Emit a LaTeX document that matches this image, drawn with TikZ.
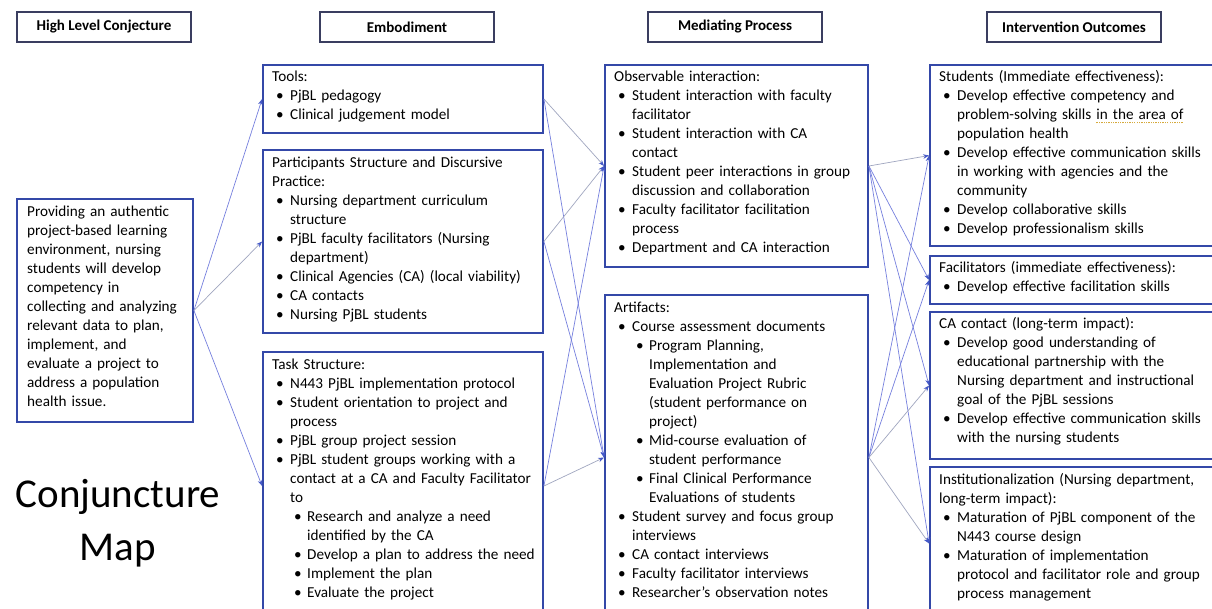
\documentclass[tikz,border=0pt]{standalone}
\usepackage{fontspec}
\setmainfont{Carlito}
\usetikzlibrary{arrows.meta}
\definecolor{boxblue}{RGB}{52,72,168}
\definecolor{hdrcol}{RGB}{58,62,96}
\definecolor{lineblue}{RGB}{118,128,222}
\definecolor{linegrey}{RGB}{160,166,192}
\definecolor{tipblue}{RGB}{70,90,200}
\definecolor{squig}{RGB}{214,170,60}
\newcommand\bodyfont{\fontsize{15.2}{19}\selectfont}
\newcommand\ttl[1]{\noindent\strut #1\par}
\newcommand\li[1]{\hangindent=18pt\hangafter=1\noindent\hspace*{4pt}\makebox[14pt][l]{\textbullet}#1\par}
\newcommand\lii[1]{\hangindent=35pt\hangafter=1\noindent\hspace*{22pt}\makebox[13pt][l]{\textbullet}#1\par}
\newsavebox\squigbox
\newcommand\squigline[1]{\sbox\squigbox{#1}\leavevmode\rlap{\textcolor{squig}{\raisebox{-3.8pt}{\hbox to \wd\squigbox{\xleaders\hbox{\rule{1.3pt}{1.3pt}\kern1pt}\hfill}}}}\usebox\squigbox}
\tikzset{
  box/.style={draw=boxblue, line width=1.8pt, rectangle, inner sep=0pt},
  hdr/.style={draw=hdrcol, line width=1.1pt, rectangle, minimum width=174, minimum height=30,
    font=\fontsize{15}{17}\selectfont\bfseries, inner sep=0pt},
  txt/.style={anchor=north west, inner sep=0pt, align=left, font=\bodyfont},
  conn/.style={draw=lineblue, line width=0.7pt, -{Stealth[length=6pt,width=4.5pt,color=tipblue]}},
  conng/.style={conn, draw=linegrey}
}
\begin{document}
\begin{tikzpicture}[x=1pt,y=-1pt]
\useasboundingbox[fill=white] (0,0) rectangle (1212,609);

% headers
\node[hdr] (h1) at (104,27) {High Level Conjecture};
\node[hdr] (h2) at (407,27) {Embodiment};
\node[hdr] (h3) at (735,27) {Mediating Process};
\node[hdr] (h4) at (1074,27) {Intervention Outcomes};

% high level conjecture
\node[box, minimum width=176, minimum height=223] (hl) at (105,310.5) {};
\node[txt, text width=172] (hlt) at (27,203) {%
\ttl{Providing an authentic\newline project-based learning\newline environment, nursing\newline students will develop\newline competency in\newline collecting and analyzing\newline relevant data to plan,\newline implement, and\newline evaluate a project to\newline address a population\newline health issue.}};

\node[font=\fontsize{41}{53}\selectfont, align=center] (cmap) at (118,523) {Conjuncture\\Map};

% embodiment
\node[box, minimum width=280, minimum height=68] (tools) at (403,99) {};
\node[txt, text width=290] (toolst) at (272,68) {%
\ttl{Tools:}
\li{PjBL pedagogy}
\li{Clinical judgement model}};

\node[box, minimum width=280, minimum height=183] (part) at (403,241.5) {};
\node[txt, text width=290] (partt) at (272,154) {%
\ttl{Participants Structure and Discursive\newline Practice:}
\li{Nursing department curriculum\newline structure}
\li{PjBL faculty facilitators (Nursing\newline department)}
\li{Clinical Agencies (CA) (local viability)}
\li{CA contacts}
\li{Nursing PjBL students}};

\node[box, minimum width=280, minimum height=268] (task) at (403,486) {};
\node[txt, text width=290] (taskt) at (272,356) {%
\ttl{Task Structure:}
\li{N443 PjBL implementation protocol}
\li{Student orientation to project and\newline process}
\li{PjBL group project session}
\li{PjBL student groups working with a\newline contact at a CA and Faculty Facilitator\newline to}
\lii{Research and analyze a need\newline identified by the CA}
\lii{Develop a plan to address the need}
\lii{Implement the plan}
\lii{Evaluate the project}};

% mediating process
\node[box, minimum width=263, minimum height=202] (obs) at (736.5,166) {};
\node[txt, text width=280] (obst) at (614,68) {%
\ttl{Observable interaction:}
\li{Student interaction with faculty\newline facilitator}
\li{Student interaction with CA\newline contact}
\li{Student peer interactions in group\newline discussion and collaboration}
\li{Faculty facilitator facilitation\newline process}
\li{Department and CA interaction}};

\node[box, minimum width=263, minimum height=325] (art) at (736.5,457.5) {};
\node[txt, text width=280] (artt) at (614,299) {%
\ttl{Artifacts:}
\li{Course assessment documents}
\lii{Program Planning,\newline Implementation and\newline Evaluation Project Rubric\newline (student performance on\newline project)}
\lii{Mid-course evaluation of\newline student performance}
\lii{Final Clinical Performance\newline Evaluations of students}
\li{Student survey and focus group\newline interviews}
\li{CA contact interviews}
\li{Faculty facilitator interviews}
\li{Researcher’s observation notes}};

% outcomes
\node[box, minimum width=283, minimum height=181] (stu) at (1071.5,155.5) {};
\node[txt, text width=300] (stut) at (939,68) {%
\ttl{Students (Immediate effectiveness):}
\li{Develop effective competency and\newline problem-solving skills \squigline{in the area of}\newline population health}
\li{Develop effective communication skills\newline in working with agencies and the\newline community}
\li{Develop collaborative skills}
\li{Develop professionalism skills}};

\node[box, minimum width=283, minimum height=48] (fac) at (1071.5,280) {};
\node[txt, text width=300] (fact) at (939,259) {%
\ttl{Facilitators (immediate effectiveness):}
\li{Develop effective facilitation skills}};

\node[box, minimum width=283, minimum height=147] (ca) at (1071.5,385.5) {};
\node[txt, text width=300] (cat) at (939,315) {%
\ttl{CA contact (long-term impact):}
\li{Develop good understanding of\newline educational partnership with the\newline Nursing department and instructional\newline goal of the PjBL sessions}
\li{Develop effective communication skills\newline with the nursing students}};

\node[box, minimum width=283, minimum height=153] (inst) at (1071.5,543.5) {};
\node[txt, text width=300] (instt) at (939,471) {%
\ttl{Institutionalization (Nursing department,\newline long-term impact):}
\li{Maturation of PjBL component of the\newline N443 course design}
\li{Maturation of implementation\newline protocol and facilitator role and group\newline process management}};

% connectors
\draw[conn]  (hl.east) -- (tools.west);
\draw[conng] (hl.east) -- (part.west);
\draw[conn]  (hl.east) -- (task.west);

\draw[conng] (tools.east) -- (obs.west);
\draw[conn]  (tools.east) -- (art.west);
\draw[conng] (part.east) -- (obs.west);
\draw[conn]  (part.east) -- (art.west);
\draw[conn]  (task.east) -- (obs.west);
\draw[conng] (task.east) -- (art.west);

\draw[conng] (obs.east) -- (stu.west);
\draw[conn]  (obs.east) -- (fac.west);
\draw[conn]  (obs.east) -- (ca.west);
\draw[conn]  (obs.east) -- (inst.west);
\draw[conn]  (art.east) -- (stu.west);
\draw[conn]  (art.east) -- (fac.west);
\draw[conng] (art.east) -- (ca.west);
\draw[conng] (art.east) -- (inst.west);
\end{tikzpicture}
\end{document}
